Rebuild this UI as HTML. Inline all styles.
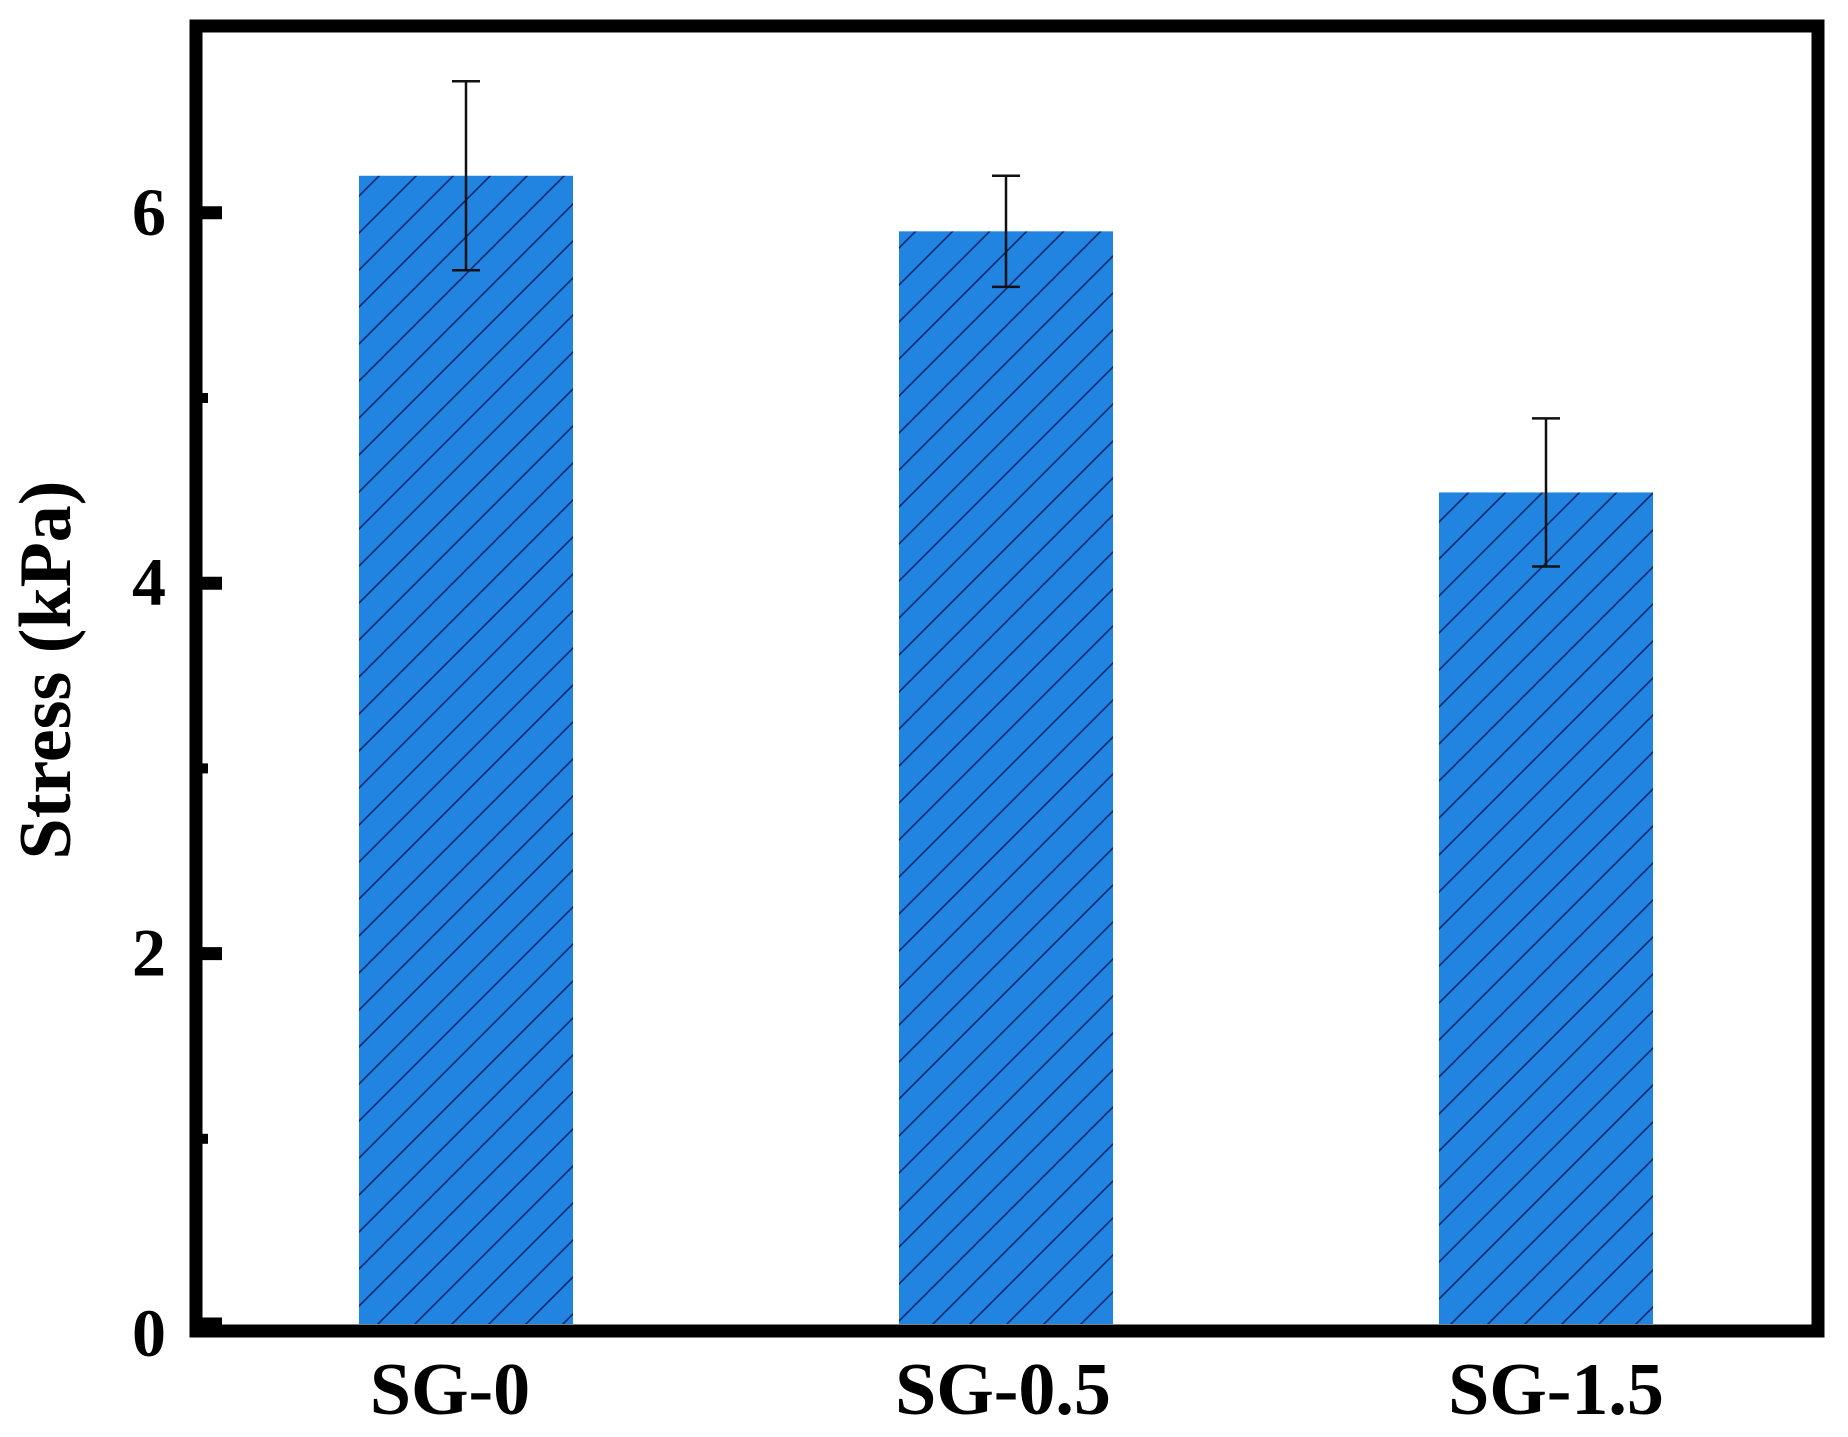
<!DOCTYPE html>
<html><head><meta charset="utf-8"><style>
html,body{margin:0;padding:0;background:#fff;}
svg{display:block;}
text{font-family:"Liberation Serif",serif;font-weight:bold;fill:#000;}
</style></head><body>
<svg id="chart" width="1848" height="1437" viewBox="0 0 1848 1437">
<defs>
<pattern id="hatch" patternUnits="userSpaceOnUse" width="37" height="37" patternTransform="translate(0,0)">
<rect width="37" height="37" fill="#2184e0"/>
<path d="M-5,42 L42,-5 M-5,5 L5,-5 M32,42 L42,32" stroke="#0a2a6e" stroke-width="1.6"/>
</pattern>
</defs>
<g id="plot"></g>
</svg>
<script>
const categories = ["SG-0", "SG-0.5", "SG-1.5"];
const values = [6.2, 5.9, 4.49];
const errors = [0.51, 0.3, 0.4];
const yTicks = [0, 2, 4, 6];
const yTickLabels = ["0", "2", "4", "6"];
const yMinorTicks = [1, 3, 5];

const L = 196, R = 1818, T = 26, B = 1331;
const y0 = 1324, yUnit = 185.2;
function yScale(v){ return y0 - v * yUnit; }
function xScale(i){ return 466 + i * 540; }
const barW = 214;
const NS = "http://www.w3.org/2000/svg";
const g = document.getElementById('plot');
function mk(tag, attrs){ const e = document.createElementNS(NS, tag); for (const k in attrs) e.setAttribute(k, attrs[k]); g.appendChild(e); return e; }

categories.forEach((c, i) => {
  const cx = xScale(i);
  const b = mk('rect', {x: cx - barW/2, y: yScale(values[i]), width: barW, height: y0 - yScale(values[i]), fill: 'url(#hatch)'});
  
  
  const hi = yScale(values[i] + errors[i]), lo = yScale(values[i] - errors[i]);
  const eg = document.createElementNS(NS, 'g');
  
  
  g.appendChild(eg);
  [[cx, hi, cx, lo], [cx - 14, hi, cx + 14, hi], [cx - 14, lo, cx + 14, lo]].forEach(p => {
    const l = document.createElementNS(NS, 'line');
    l.setAttribute('x1', p[0]); l.setAttribute('y1', p[1]); l.setAttribute('x2', p[2]); l.setAttribute('y2', p[3]);
    l.setAttribute('stroke', '#111'); l.setAttribute('stroke-width', '2.5');
    eg.appendChild(l);
  });
  const t = mk('text', {x: cx - 16 + i * 13, y: 1414, 'font-size': 74, 'text-anchor': 'middle'});
  t.textContent = c;
  
  
});

yTicks.forEach((v, i) => {
  const y = yScale(v);
  const tk = mk('line', {x1: L, y1: y, x2: 222, y2: y, stroke: '#000', 'stroke-width': 13});
  
  
  const t = mk('text', {x: 166, y: y + 22 + (v === 0 ? 10 : 0), 'font-size': 68, 'text-anchor': 'end'});
  t.textContent = yTickLabels[i];
  
  
});
yMinorTicks.forEach(v => {
  const y = yScale(v);
  const tk = mk('line', {x1: L, y1: y, x2: 208, y2: y, stroke: '#000', 'stroke-width': 10});
  
  
});

const frame = mk('rect', {x: L, y: T, width: R - L, height: B - T, fill: 'none', stroke: '#000', 'stroke-width': 13});



const yt = mk('text', {x: 0, y: 0, 'font-size': 74, 'text-anchor': 'middle', transform: 'translate(70,670) rotate(-90)'});
yt.textContent = 'Stress (kPa)';


</script>
</body></html>
